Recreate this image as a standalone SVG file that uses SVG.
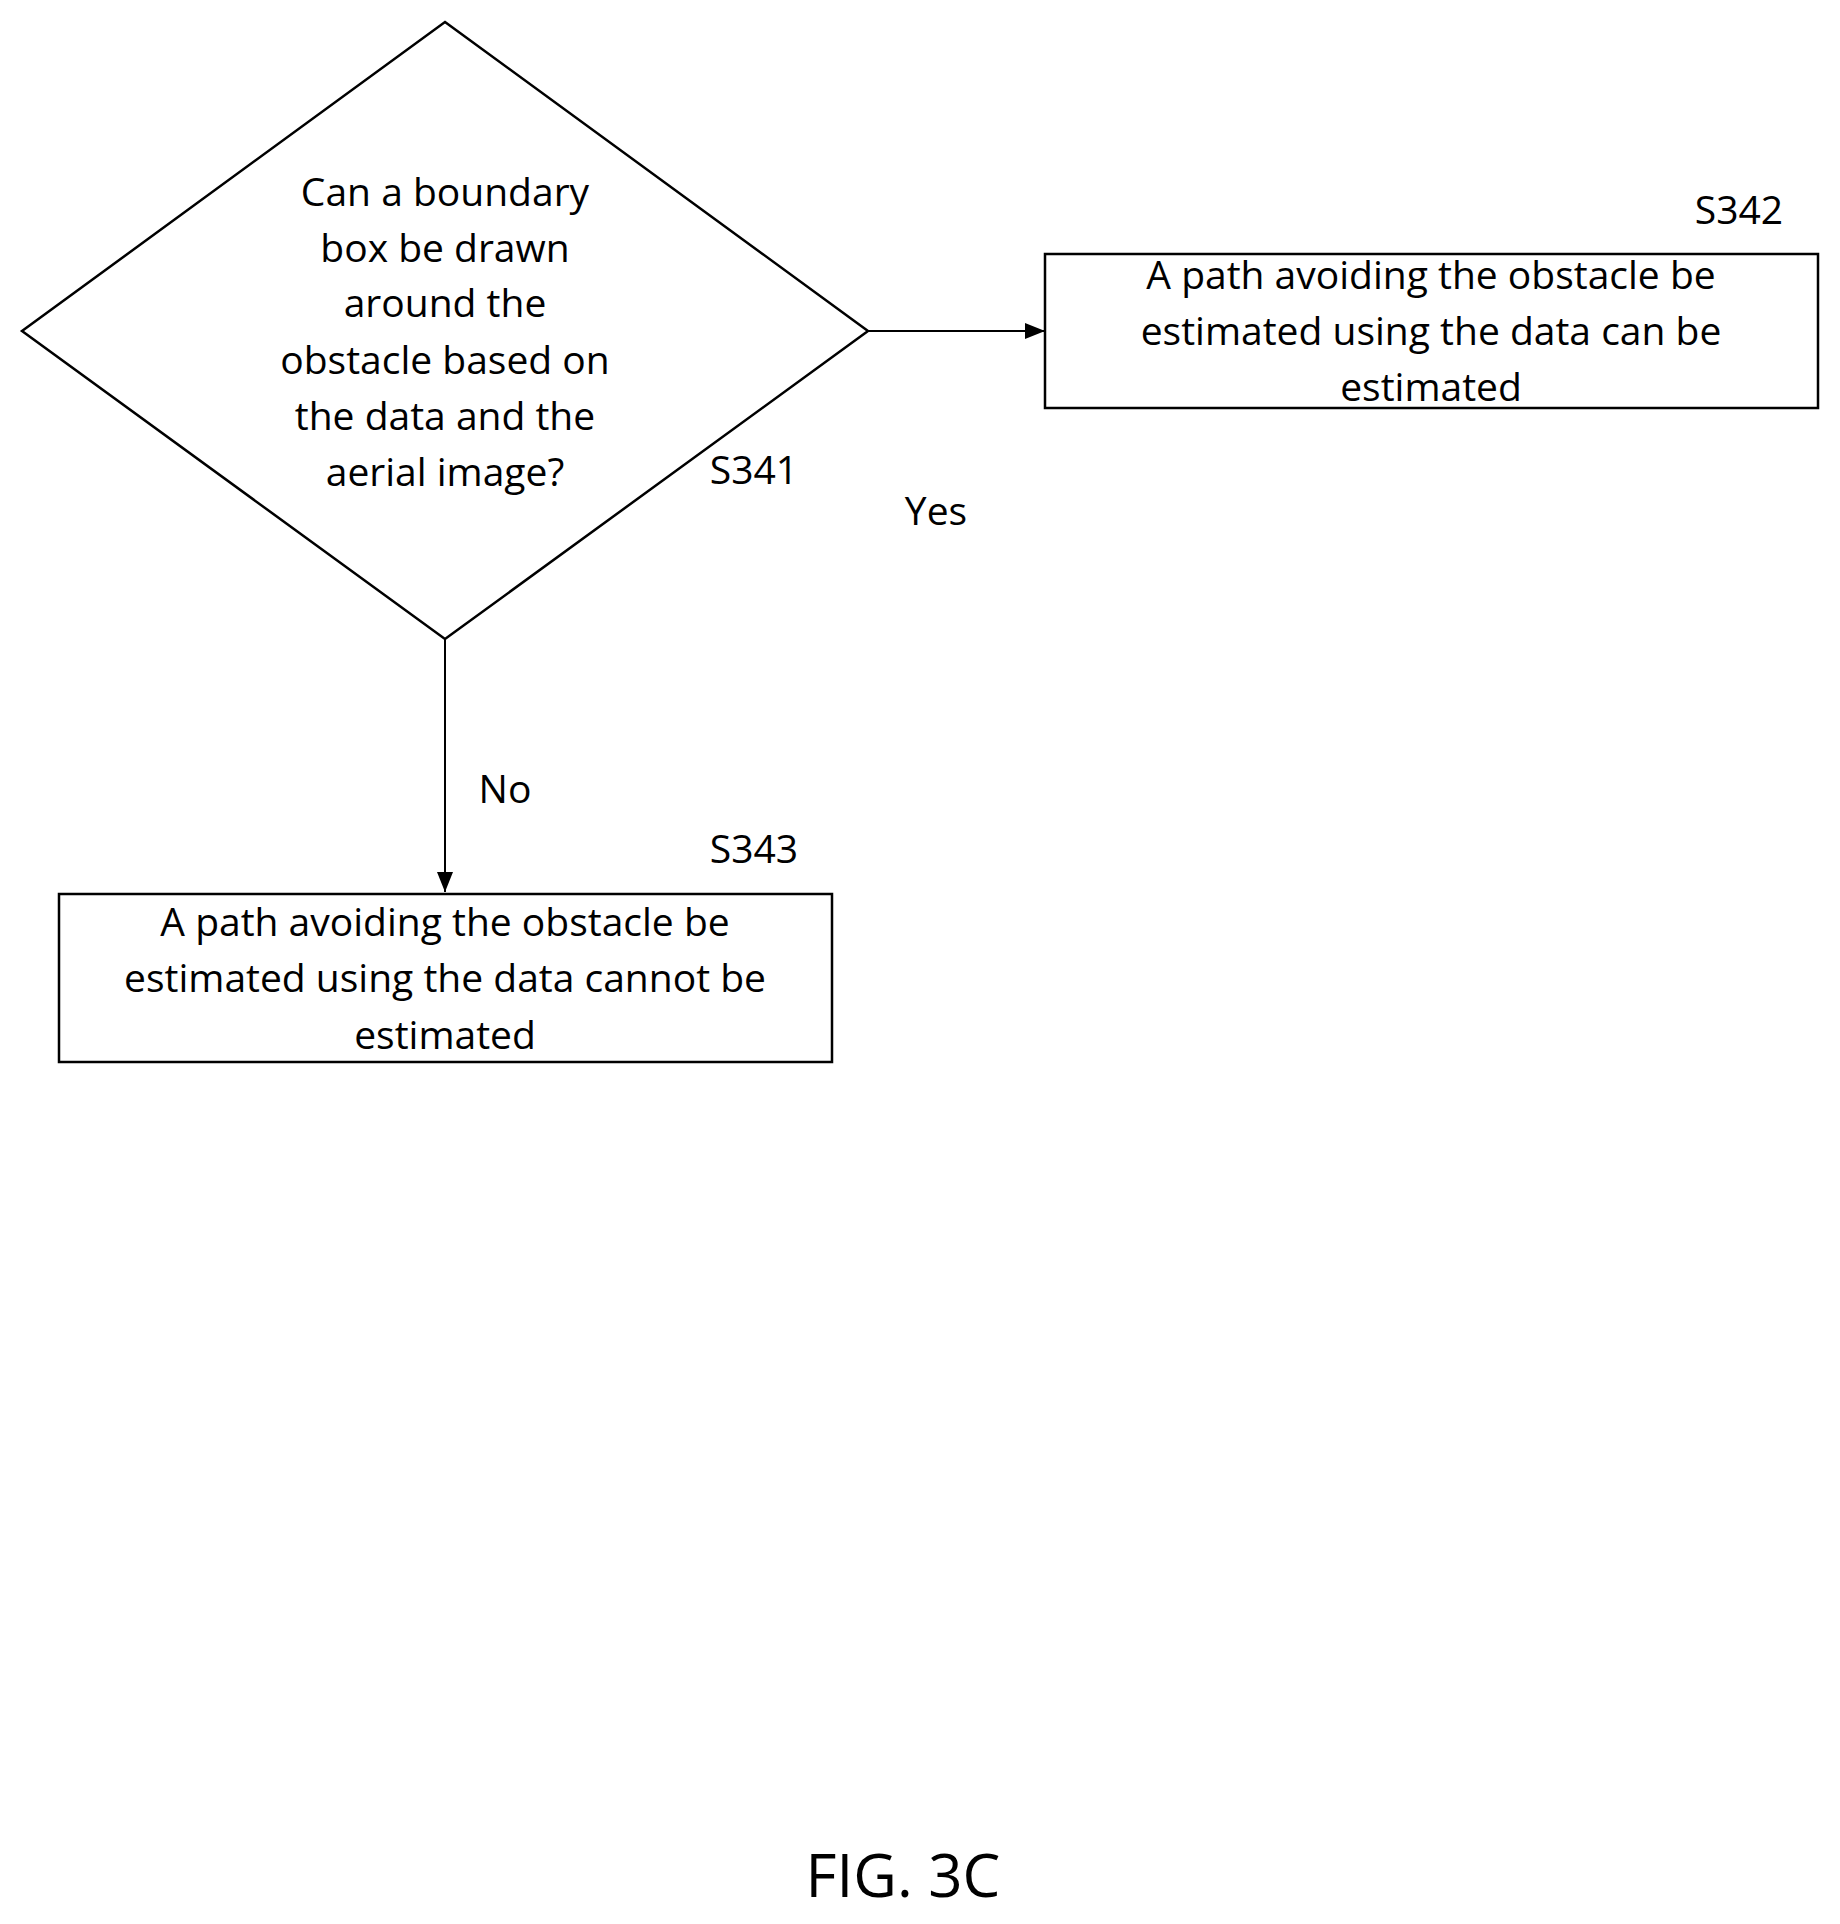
<svg xmlns="http://www.w3.org/2000/svg" width="1840" height="1924" viewBox="0 0 1840 1924">
<style>
.s{fill:#fff;stroke:#000;stroke-width:2.5}
text{font-family:"Open Sans","Liberation Sans",sans-serif;font-size:39px;fill:#000;text-anchor:middle}
.c{stroke:#000;stroke-width:2;fill:none}
</style>
<defs><marker id="b" viewBox="0 0 20 16" refX="20" refY="8" markerWidth="20" markerHeight="16" markerUnits="userSpaceOnUse" orient="auto"><path d="M0,0L20,8L0,16z" fill="#000"/></marker></defs>
<rect width="1840" height="1924" fill="#fff"/>
<g id="S341">
<polygon class="s" points="445,22 868,331 445,639 22,331"/>
<text x="445" y="206">Can a boundary</text>
<text x="445" y="262">box be drawn</text>
<text x="445" y="317">around the</text>
<text x="445" y="374">obstacle based on</text>
<text x="445" y="430">the data and the</text>
<text x="445" y="486">aerial image?</text>
<text x="754" y="484">S341</text>
</g>
<g id="S342">
<rect class="s" x="1045" y="254" width="773" height="154"/>
<text x="1431" y="289">A path avoiding the obstacle be</text>
<text x="1431" y="345">estimated using the data can be</text>
<text x="1431" y="401">estimated</text>
<text x="1739" y="224">S342</text>
</g>
<g id="S343">
<rect class="s" x="59" y="894" width="773" height="168"/>
<text x="445" y="936">A path avoiding the obstacle be</text>
<text x="445" y="992">estimated using the data cannot be</text>
<text x="445" y="1049">estimated</text>
<text x="754" y="863">S343</text>
</g>
<g id="connectors">
<line class="c" x1="868" y1="331" x2="1045" y2="331" marker-end="url(#b)"/>
<line class="c" x1="445" y1="639" x2="445" y2="892" marker-end="url(#b)"/>
<text x="936" y="525">Yes</text>
<text x="505" y="803">No</text>
</g>
<text x="903" y="1897" style="font-size:60px">FIG. 3C</text>
</svg>
